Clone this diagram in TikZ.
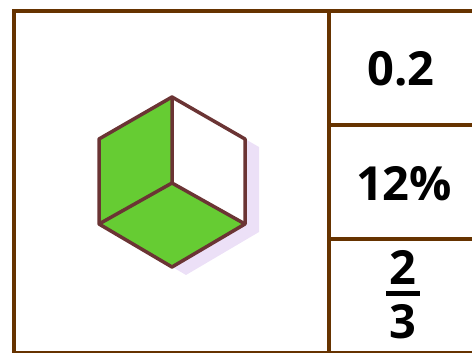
\documentclass[tikz,border=0pt]{standalone}
\usepackage{fontspec}
\setmainfont{Open Sans}
\definecolor{frame}{RGB}{102,51,0}
\definecolor{edge}{RGB}{107,52,52}
\definecolor{leaf}{RGB}{102,204,51}
\definecolor{lavender}{RGB}{236,224,247}
\begin{document}
\begin{tikzpicture}[x=1pt,y=-1pt,
  grid/.style={draw=frame,line width=4.2pt},
  face/.style={draw=edge,line width=3.5pt,line join=round},
  num/.style={font=\fontsize{47}{47}\selectfont\bfseries,inner sep=0pt,anchor=center}]
\useasboundingbox (0,0) rectangle (472,353);
\clip (0,0) rectangle (472,353);
% frame
\draw[grid] (14,11) rectangle (490,353.5);
\draw[grid] (329,11) -- (329,360);
\draw[grid] (329,125) -- (480,125);
\draw[grid] (329,239) -- (480,239);
% hexagon corners
\coordinate (T) at (172,97);
\coordinate (UL) at (99,139);
\coordinate (LL) at (99,224);
\coordinate (B) at (172,267);
\coordinate (LR) at (245,224);
\coordinate (UR) at (245,139);
\coordinate (C) at (172,183);
% shadow
\fill[fill=lavender,shift={(14,8)}] (172,97) -- (245,139) -- (245,224) -- (172,267) -- (99,224) -- (99,139) -- cycle;
\fill[white] (T) -- (UR) -- (LR) -- (B) -- (LL) -- (UL) -- cycle;
\fill[leaf] (T) -- (UL) -- (LL) -- (C) -- cycle;
\fill[leaf] (C) -- (LL) -- (B) -- (LR) -- cycle;
\draw[face] (T) -- (UR) -- (LR) -- (B) -- (LL) -- (UL) -- cycle;
\draw[face] (T) -- (C) (LL) -- (C) -- (LR);
% labels
\node[num] (a) at (401,69) {0.2};
\node[num] (b) at (404,184) {12\%};
\node[num] (c) at (403,295) {\shortstack{2\\[3pt]\rule{34pt}{5pt}\\[6pt]3}};
\end{tikzpicture}
\end{document}
